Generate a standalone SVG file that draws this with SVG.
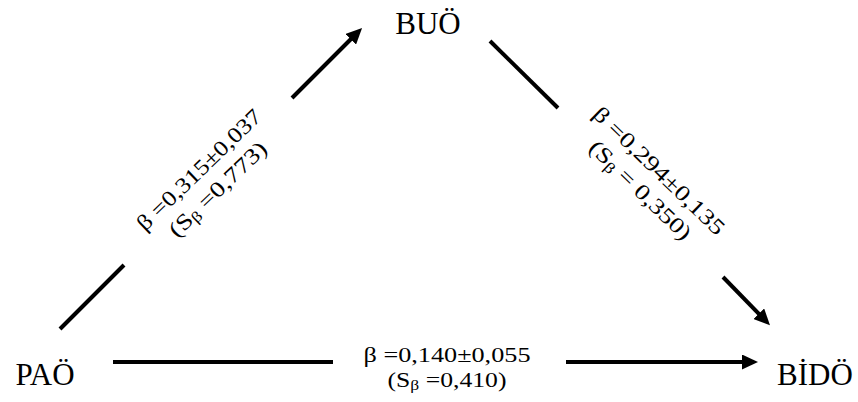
<svg xmlns="http://www.w3.org/2000/svg" width="858" height="402" viewBox="0 0 858 402">
<style>
.node{font-family:"Liberation Serif","Times New Roman",serif;font-size:31px;fill:#000;text-anchor:middle}
.lbl{font-family:"Liberation Serif","Times New Roman",serif;font-size:22px;fill:#000;text-anchor:middle}
.sub{font-size:15px}
.ln{stroke:#000;stroke-width:4;fill:none}
</style>
<defs>
<marker id="ah" markerUnits="userSpaceOnUse" markerWidth="16" markerHeight="15" refX="6" refY="7.5" orient="auto">
<path d="M0,0 L16,7.5 L0,15 Z" fill="#000"/>
</marker>
</defs>
<rect width="858" height="402" fill="#fff"/>
<g id="connectors">
<line class="ln" x1="60" y1="329" x2="124" y2="265"/>
<line class="ln" x1="292" y1="98" x2="355" y2="35" marker-end="url(#ah)"/>
<line class="ln" x1="490" y1="41" x2="558" y2="108"/>
<line class="ln" x1="723" y1="277" x2="763" y2="318" marker-end="url(#ah)"/>
<line class="ln" x1="113" y1="362" x2="333" y2="362"/>
<line class="ln" x1="566" y1="362" x2="748" y2="362" marker-end="url(#ah)"/>
</g>
<g id="PAO"><text class="node" x="45" y="385">PAÖ</text></g>
<g id="BUO"><text class="node" x="428" y="34">BUÖ</text></g>
<g id="BIDO"><text class="node" x="815" y="385">BİDÖ</text></g>
<g id="label-pao-buo" transform="translate(204,175) rotate(-44)">
<text class="lbl" x="0" y="0" textLength="164" lengthAdjust="spacingAndGlyphs">β =0,315±0,037</text>
<text class="lbl" x="0" y="27" textLength="127" lengthAdjust="spacingAndGlyphs">(S<tspan class="sub" dy="3">β</tspan><tspan dy="-3"> =0,773)</tspan></text>
</g>
<g id="label-buo-bido" transform="translate(654,176) rotate(44)">
<text class="lbl" x="0" y="0" textLength="174" lengthAdjust="spacingAndGlyphs">β =0,294±0,135</text>
<text class="lbl" x="0" y="27" textLength="133" lengthAdjust="spacingAndGlyphs">(S<tspan class="sub" dy="3">β</tspan><tspan dy="-3"> = 0,350)</tspan></text>
</g>
<g id="label-pao-bido">
<text class="lbl" x="447" y="362" textLength="167" lengthAdjust="spacingAndGlyphs">β =0,140±0,055</text>
<text class="lbl" x="447" y="387" textLength="119" lengthAdjust="spacingAndGlyphs">(S<tspan class="sub" dy="3">β</tspan><tspan dy="-3"> =0,410)</tspan></text>
</g>
</svg>
